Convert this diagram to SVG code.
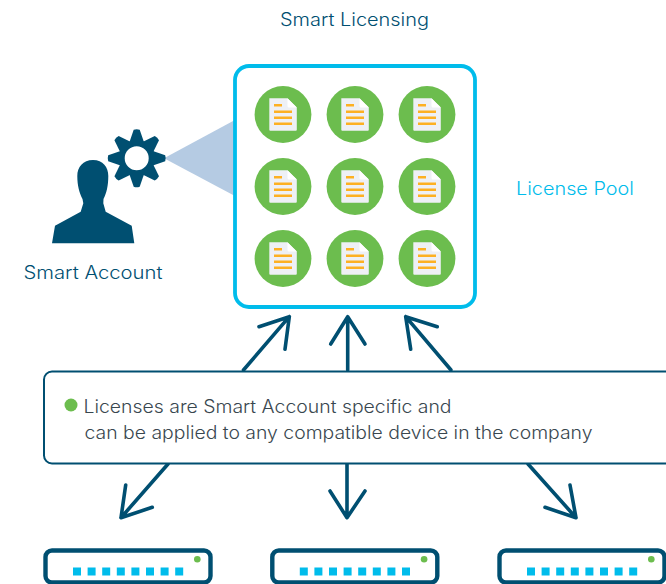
<svg xmlns="http://www.w3.org/2000/svg" xmlns:xlink="http://www.w3.org/1999/xlink" width="666" height="584" viewBox="0 0 666 584">
<style>
text{font-family:Inter,"Liberation Sans",sans-serif;font-size:18px;font-weight:300}
.teal{fill:#004f71}
.dark{fill:#39474f}
.arr{fill:none;stroke:#004f71;stroke-width:3.6;stroke-linecap:round;stroke-linejoin:round}
</style>
<defs>
<g id="lic">
<circle r="28.4" fill="#6cbd4e"/>
<path d="M-13.700-16.200H4.500L13.800-7V15.200Q13.800 16.200 12.800 16.200H-12.700Q-13.700 16.200-13.700 15.200Z" fill="#eef0f5"/>
<path d="M4.500-16.200L13.800-7H6Q4.500-7 4.500-8.500Z" fill="#fff"/>
<path d="M-9-9.200H-1M-9-2.700H9M-9 3.300H9M-9 9.200H9" stroke="#fdb022" stroke-width="2.400" fill="none"/>
</g>
<g id="dev">
<rect x="45.500" y="550.500" width="165" height="32" rx="6.500" fill="#fff" stroke="#004f71" stroke-width="4.400"/>
<circle cx="197.300" cy="559.300" r="3.300" fill="#6cbd4e"/>
<path d="M73 567.400h8v8.200h-8zM87.600 567.400h8v8.200h-8zM102.200 567.400h8v8.200h-8zM116.800 567.400h8v8.200h-8zM131.400 567.400h8v8.200h-8zM146 567.400h8v8.200h-8zM160.600 567.400h8v8.200h-8zM175.200 567.400h8v8.200h-8z" fill="#00bceb"/>
</g>
<path id="tooth" d="M-3-28.500Q0-29.500 3-28.500L8-14H-8Z" fill="#004f71"/>
</defs>
<rect width="666" height="584" fill="#fff"/>
<g id="smart-licensing-title"><text x="280" y="25.500" class="teal" textLength="149" lengthAdjust="spacingAndGlyphs">Smart Licensing</text></g>
<g id="beam"><path d="M164 158.300L234 120.500V195.500Z" fill="#b5cbe3"/></g>
<g id="license-pool">
<rect x="235" y="66" width="240" height="241" rx="14" fill="#fff" stroke="#00bceb" stroke-width="3.800"/>
<use xlink:href="#lic" href="#lic" x="283" y="114.500"/>
<use xlink:href="#lic" href="#lic" x="355" y="114.500"/>
<use xlink:href="#lic" href="#lic" x="427" y="114.500"/>
<use xlink:href="#lic" href="#lic" x="283" y="186.500"/>
<use xlink:href="#lic" href="#lic" x="355" y="186.500"/>
<use xlink:href="#lic" href="#lic" x="427" y="186.500"/>
<use xlink:href="#lic" href="#lic" x="283" y="258.500"/>
<use xlink:href="#lic" href="#lic" x="355" y="258.500"/>
<use xlink:href="#lic" href="#lic" x="427" y="258.500"/>
</g>
<g id="license-pool-label"><text x="516" y="194.500" fill="#00bceb" textLength="118" lengthAdjust="spacingAndGlyphs">License Pool</text></g>
<g id="smart-account">
<path class="teal" d="M93 160C103 160 108.300 167 108.300 176C108.300 186 106.500 193 103.500 199L103.300 203.300L105.700 211.700L131.700 225.700L134.300 243.300H52L55 225.700L80.700 211.700L83.300 203.300L82.500 199C79.500 193 77.300 186 77.300 176C77.300 167 83 160 93 160Z"/>
<g transform="translate(136.700 158.300)">
<circle r="15" fill="none" stroke="#004f71" stroke-width="6"/>
<use xlink:href="#tooth" href="#tooth"/>
<use xlink:href="#tooth" href="#tooth" transform="rotate(45)"/>
<use xlink:href="#tooth" href="#tooth" transform="rotate(90)"/>
<use xlink:href="#tooth" href="#tooth" transform="rotate(135)"/>
<use xlink:href="#tooth" href="#tooth" transform="rotate(180)"/>
<use xlink:href="#tooth" href="#tooth" transform="rotate(225)"/>
<use xlink:href="#tooth" href="#tooth" transform="rotate(270)"/>
<use xlink:href="#tooth" href="#tooth" transform="rotate(315)"/>
</g>
<text x="23.500" y="278.500" class="teal" textLength="139" lengthAdjust="spacingAndGlyphs">Smart Account</text>
</g>
<g id="connectors">
<path class="arr" d="M243.500 370L289.300 316.700M259 326.700L289.300 316.700L285 349.300"/>
<path class="arr" d="M347.700 370V316.700M330.700 344L347.700 316.700L365 344"/>
<path class="arr" d="M451 370L405.700 316.700M437.300 326.700L405.700 316.700L410.700 349.300"/>
<path class="arr" d="M168 464L121 517.700M125.700 485L121 517.700L152.300 507.300"/>
<path class="arr" d="M347 464V517.700M330 491L347 517.700L365 491"/>
<path class="arr" d="M528 464L576 517.700M545 507.300L576 517.700L570 485"/>
</g>
<g id="callout">
<rect x="44" y="371.500" width="640" height="92" rx="8" fill="#fff" stroke="#004f71" stroke-width="2"/>
<circle cx="71" cy="405" r="6.500" fill="#6cbd4e"/>
<text x="83.500" y="412.500" class="dark" textLength="368" lengthAdjust="spacingAndGlyphs">Licenses are Smart Account specific and</text>
<text x="84.500" y="438.500" class="dark" textLength="508" lengthAdjust="spacingAndGlyphs">can be applied to any compatible device in the company</text>
</g>
<g id="device-1"><use xlink:href="#dev" href="#dev"/></g>
<g id="device-2"><use xlink:href="#dev" href="#dev" x="226.800"/></g>
<g id="device-3"><use xlink:href="#dev" href="#dev" x="454"/></g>
</svg>
